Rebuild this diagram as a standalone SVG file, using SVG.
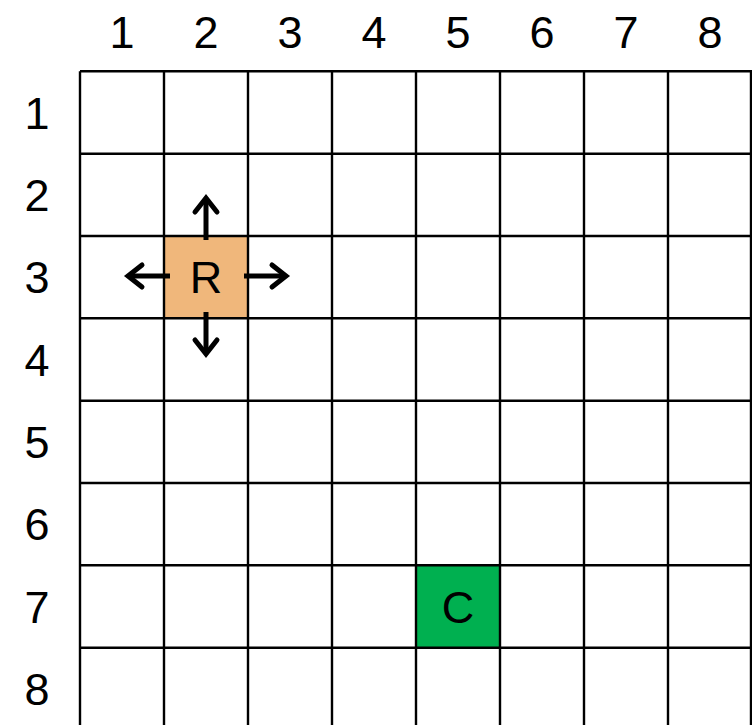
<svg xmlns="http://www.w3.org/2000/svg" width="752" height="725" viewBox="0 0 752 725">
<style>
.g{stroke:#000;stroke-width:2.4;fill:none}
.t{font-family:"Liberation Sans",Arial,sans-serif;font-size:45px;fill:#000;text-anchor:middle}
.a{stroke:#000;stroke-width:5;fill:none;stroke-linecap:round;stroke-linejoin:miter}
.s{stroke-linecap:butt}
</style>
<rect width="752" height="725" fill="#fff"/>
<g id="cell-R"><rect x="164" y="236" width="84" height="82.3" fill="#F0B77B"/></g>
<g id="cell-C"><rect x="416" y="565.3" width="84" height="82.4" fill="#00B050"/></g>
<g id="grid" class="g">
<path d="M80 71.3V730M164 71.3V730M248 71.3V730M332 71.3V730M416 71.3V730M500 71.3V730M584 71.3V730M668 71.3V730M751 71.3V730"/>
<path d="M80 71.3H752M80 153.7H752M80 236H752M80 318.3H752M80 400.7H752M80 483H752M80 565.3H752M80 647.7H752"/>
</g>
<g id="col-labels" class="t">
<text x="122" y="48">1</text><text x="206" y="48">2</text><text x="290" y="48">3</text><text x="374" y="48">4</text><text x="458" y="48">5</text><text x="542" y="48">6</text><text x="626" y="48">7</text><text x="710" y="48">8</text>
</g>
<g id="row-labels" class="t">
<text x="37" y="129">1</text><text x="37" y="211">2</text><text x="37" y="293">3</text><text x="37" y="376">4</text><text x="37" y="458">5</text><text x="37" y="540">6</text><text x="37" y="623">7</text><text x="37" y="705">8</text>
</g>
<g id="labels" class="t">
<text x="206" y="293">R</text>
<text x="458" y="623">C</text>
</g>
<g id="connectors" class="a">
<path class="s" d="M206 240V200"/><path d="M195 212L206 198L217 212"/>
<path class="s" d="M170 276H130"/><path d="M142 265L128 276L142 287"/>
<path class="s" d="M244 276H284"/><path d="M272 265L286 276L272 287"/>
<path class="s" d="M206 312V352"/><path d="M195 340L206 354L217 340"/>
</g>
</svg>
